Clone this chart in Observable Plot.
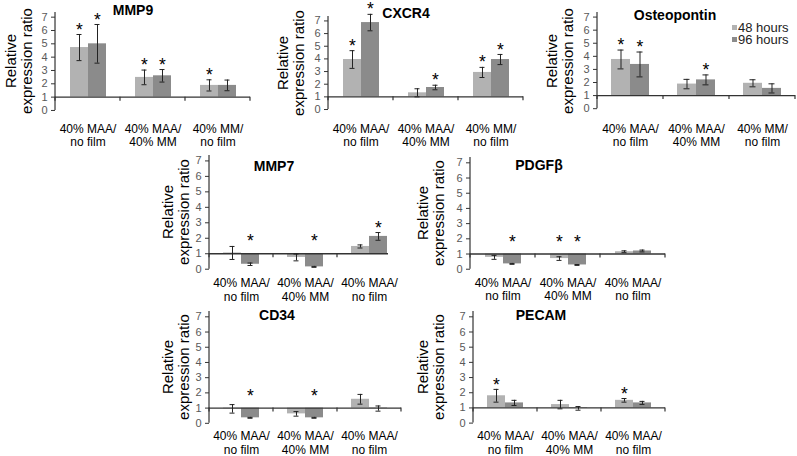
<!DOCTYPE html>
<html><head><meta charset="utf-8">
<script src="https://cdn.jsdelivr.net/npm/d3@7"></script>
<script src="https://cdn.jsdelivr.net/npm/@observablehq/plot@0.6"></script>
<style>
body{margin:0;background:#fff;}
#root{position:relative;width:797px;height:456px;overflow:hidden;background:#fff;font-family:"Liberation Sans",Arial,sans-serif;}
.abs{position:absolute;white-space:nowrap;}
.title{font-weight:bold;font-size:14px;line-height:14px;color:#000;transform:translate(-50%,-50%);}
.ylab{font-size:15px;line-height:16px;text-align:center;color:#000;transform:translate(-50%,-50%) rotate(-90deg);}
.leg{font-size:13px;line-height:11px;color:#222;}
.sw{width:5px;height:5px;}
</style></head><body><div id="root"></div>
<script>
// ---- data ----
const series = ["48 hours", "96 hours"];
const categories = ["c1", "c2", "c3"];
const labelsTop = ["40% MAA/\nno film", "40% MAA/\n40% MM", "40% MM/\nno film"];
const labelsBottom = ["40% MAA/\nno film", "40% MAA/\n40% MM", "40% MAA/\nno film"];
const yTicks = [0, 1, 2, 3, 4, 5, 6, 7];
const baseline = 1;
const seriesColors = ["#b2b2b2", "#8b8b8b"];

const mmp9_48 = [4.72, 2.48, 1.88], mmp9_48err = [0.98, 0.55, 0.42], mmp9_48sig = [1, 1, 1];
const mmp9_96 = [5.0, 2.6, 1.88],  mmp9_96err = [1.45, 0.47, 0.4],  mmp9_96sig = [1, 1, 0];

const cxcr4_48 = [3.95, 1.32, 2.93], cxcr4_48err = [0.7, 0.32, 0.4],  cxcr4_48sig = [1, 0, 1];
const cxcr4_96 = [6.87, 1.74, 3.95], cxcr4_96err = [0.65, 0.18, 0.4], cxcr4_96sig = [1, 1, 1];

const opn_48 = [3.76, 1.88, 1.94], opn_48err = [0.72, 0.36, 0.27], opn_48sig = [1, 0, 0];
const opn_96 = [3.38, 2.2, 1.55],  opn_96err = [0.95, 0.38, 0.35], opn_96sig = [1, 1, 0];

const mmp7_48 = [1.05, 0.76, 1.47], mmp7_48err = [0.42, 0.22, 0.1],  mmp7_48sig = [0, 0, 0];
const mmp7_96 = [0.32, 0.15, 2.12], mmp7_96err = [0.08, 0.03, 0.25], mmp7_96sig = [1, 1, 1];

const pdgfb_48 = [0.78, 0.7, 1.15], pdgfb_48err = [0.13, 0.12, 0.06], pdgfb_48sig = [0, 1, 0];
const pdgfb_96 = [0.35, 0.28, 1.2], pdgfb_96err = [0.03, 0.03, 0.06], pdgfb_96sig = [1, 1, 0];

const cd34_48 = [0.95, 0.62, 1.58], cd34_48err = [0.28, 0.15, 0.32], cd34_48sig = [0, 0, 0];
const cd34_96 = [0.36, 0.36, 0.97], cd34_96err = [0.03, 0.03, 0.17], cd34_96sig = [1, 1, 0];

const pecam_48 = [1.8, 1.22, 1.5],  pecam_48err = [0.42, 0.28, 0.12], pecam_48sig = [1, 0, 1];
const pecam_96 = [1.33, 0.97, 1.33], pecam_96err = [0.17, 0.12, 0.1], pecam_96sig = [0, 0, 0];

// ---- layout (pixels) ----
const panels = [
  {title: "MMP9", labels: labelsTop, d: [mmp9_48, mmp9_48err, mmp9_48sig, mmp9_96, mmp9_96err, mmp9_96sig],
   axisX: 55, right: 250, y0: 110, y7: 16.7, tx: 133, ty: 10, lx: 19, ly: 61, catY: 127},
  {title: "CXCR4", labels: labelsTop, d: [cxcr4_48, cxcr4_48err, cxcr4_48sig, cxcr4_96, cxcr4_96err, cxcr4_96sig],
   axisX: 328, right: 523, y0: 109.3, y7: 20.7, tx: 406, ty: 13, lx: 290.5, ly: 63, catY: 127},
  {title: "Osteopontin", labels: labelsTop, d: [opn_48, opn_48err, opn_48sig, opn_96, opn_96err, opn_96sig],
   axisX: 597, right: 795, y0: 108.3, y7: 16.7, tx: 675, ty: 15, lx: 560, ly: 61, catY: 127},
  {title: "MMP7", labels: labelsBottom, d: [mmp7_48, mmp7_48err, mmp7_48sig, mmp7_96, mmp7_96err, mmp7_96sig],
   axisX: 208, right: 401, y0: 268.8, y7: 160.5, tx: 274, ty: 166, lx: 175.5, ly: 212, catY: 281.5, axisEnd: 388},
  {title: "PDGFβ", labels: labelsBottom, d: [pdgfb_48, pdgfb_48err, pdgfb_48sig, pdgfb_96, pdgfb_96err, pdgfb_96sig],
   axisX: 470, right: 665, y0: 269.2, y7: 162.8, tx: 539, ty: 165, lx: 430.5, ly: 213, catY: 281.5},
  {title: "CD34", labels: labelsBottom, d: [cd34_48, cd34_48err, cd34_48sig, cd34_96, cd34_96err, cd34_96sig],
   axisX: 208, right: 402, y0: 422.5, y7: 316, tx: 277, ty: 315, lx: 175.5, ly: 367, catY: 434},
  {title: "PECAM", labels: labelsBottom, d: [pecam_48, pecam_48err, pecam_48sig, pecam_96, pecam_96err, pecam_96sig],
   axisX: 472, right: 665, y0: 422.3, y7: 316, tx: 541, ty: 315, lx: 430.5, ly: 367, catY: 434}
];

const root = document.getElementById("root");
const yMax = 7.35;

function addDiv(cls, html, style) {
  const el = document.createElement("div");
  el.className = "abs " + cls;
  el.innerHTML = html;
  Object.assign(el.style, style);
  root.appendChild(el);
  return el;
}

for (const p of panels) {
  const [v48, e48, s48, v96, e96, s96] = p.d;
  const rows = [];
  categories.forEach((c, i) => {
    rows.push({cat: c, series: series[0], value: v48[i], err: e48[i], sig: s48[i]});
    rows.push({cat: c, series: series[1], value: v96[i], err: e96[i], sig: s96[i]});
  });
  const u = (p.y0 - p.y7) / 7;
  const yTop = p.y0 - yMax * u;
  const mL = 34, mR = 4, mT = 14, mB = 42;
  const left = p.axisX - mL;
  const top = yTop - mT;
  const width = p.right - p.axisX + mL + mR;
  const height = (p.y0 - yTop) + mT + mB;
  const pad = p.catY - p.y0 - 4.2;
  const cut = p.axisEnd ? p.right - p.axisEnd : 0;
  const last = categories[categories.length - 1];

  const plot = Plot.plot({
    width, height, marginLeft: mL, marginRight: mR, marginTop: mT, marginBottom: mB,
    style: {background: "transparent", overflow: "visible", maxWidth: "none", display: "block",
            fontFamily: "'Liberation Sans', Arial, sans-serif", color: "#000"},
    fx: {domain: categories, padding: 0},
    x: {domain: series, paddingInner: 0, paddingOuter: 0.72, axis: null},
    y: {domain: [0, yMax]},
    color: {domain: series, range: seriesColors},
    marks: [
      Plot.barY(rows, {fx: "cat", x: "series", y1: baseline, y2: "value", fill: "series"}),
      Plot.ruleY(categories.slice(0, -1), {fx: d => d, y: () => baseline, stroke: "#333", strokeWidth: 1.3}),
      Plot.ruleY([last], {fx: d => d, y: () => baseline, insetRight: cut, stroke: "#333", strokeWidth: 1.3}),
      Plot.ruleX(rows, {fx: "cat", x: "series", y1: d => d.value - d.err, y2: d => d.value + d.err, stroke: "#222", strokeWidth: 1}),
      Plot.tickY(rows, {fx: "cat", x: "series", y: d => d.value + d.err, insetLeft: 6.5, insetRight: 6.5, stroke: "#222"}),
      Plot.tickY(rows, {fx: "cat", x: "series", y: d => d.value - d.err, insetLeft: 6.5, insetRight: 6.5, stroke: "#222"}),
      Plot.text(rows.filter(d => d.sig), {fx: "cat", x: "series", y: d => Math.max(d.value + d.err, 1.5),
        text: () => "*", fontSize: 17.5, dy: -4.5, fill: "#000"}),
      Plot.axisY({ticks: yTicks, tickSize: 4, tickPadding: 4, fontSize: 11, stroke: "#333", fill: "#595959", label: null}),
      Plot.axisFx({anchor: "bottom", tickSize: 0, tickPadding: pad, fontSize: 12, lineHeight: 1.13, label: null,
        tickFormat: c => p.labels[categories.indexOf(c)]})
    ]
  });

  // y-axis line and category boundary ticks, drawn from the plot's own scales
  const fx = plot.scale("fx"), y = plot.scale("y");
  const svg = d3.select(plot);
  const x0 = fx.apply(categories[0]);
  svg.append("line").attr("x1", x0).attr("x2", x0).attr("y1", y.apply(0)).attr("y2", y.apply(yMax))
    .attr("stroke", "#333").attr("stroke-width", 1.2);
  const edges = categories.map(c => fx.apply(c));
  if (!cut) edges.push(fx.apply(last) + fx.bandwidth);
  for (const ex of edges) {
    svg.append("line").attr("x1", ex).attr("x2", ex).attr("y1", y.apply(baseline)).attr("y2", y.apply(baseline) + 4)
      .attr("stroke", "#333").attr("stroke-width", 1.2);
  }

  const holder = document.createElement("div");
  holder.className = "abs";
  holder.style.left = left + "px";
  holder.style.top = top + "px";
  holder.appendChild(plot);
  root.appendChild(holder);

  addDiv("title", p.title, {left: p.tx + "px", top: p.ty + "px"});
  addDiv("ylab", "Relative<br>expression ratio", {left: p.lx + "px", top: p.ly + "px"});
}

// legend
series.forEach((s, i) => {
  addDiv("sw", "", {left: "732px", top: (25 + i * 12) + "px", background: seriesColors[i]});
  addDiv("leg", s, {left: "738px", top: (22 + i * 12) + "px"});
});
</script>
</body></html>
